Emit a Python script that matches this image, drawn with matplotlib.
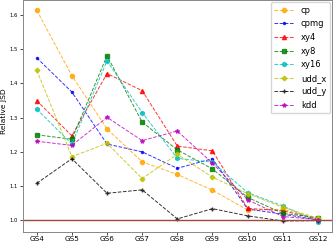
import numpy as np
import matplotlib
matplotlib.use("Agg")
import matplotlib.pyplot as plt

# 九個 GS 點
labels = ["GS4", "GS5", "GS6", "GS7", "GS8", "GS9", "GS10", "GS11", "GS12"]

# 各序列的 Relative JSD
cp = [1.614, 1.423, 1.267, 1.171, 1.134, 1.088, 1.030, 1.032, 1.004]
cpmg = [1.475, 1.375, 1.223, 1.200, 1.152, 1.180, 1.033, 1.018, 1.001]
xy4 = [1.350, 1.247, 1.429, 1.379, 1.217, 1.203, 1.035, 1.028, 1.003]
xy8 = [1.250, 1.237, 1.481, 1.287, 1.206, 1.150, 1.067, 1.020, 1.008]
xy16 = [1.325, 1.223, 1.466, 1.315, 1.181, 1.170, 1.081, 1.042, 0.996]
udd_x = [1.439, 1.186, 1.225, 1.122, 1.193, 1.126, 1.078, 1.038, 1.006]
udd_y = [1.108, 1.180, 1.079, 1.089, 1.004, 1.034, 1.013, 0.998, 0.999]
kdd = [1.231, 1.219, 1.301, 1.233, 1.261, 1.167, 1.060, 1.011, 1.002]

series = [
    ("cp", cp, "orange", "o"),
    ("cpmg", cpmg, "b", "."),
    ("xy4", xy4, "r", "^"),
    ("xy8", xy8, "g", "s"),
    ("xy16", xy16, "c", "h"),
    ("udd_x", udd_x, "y", "P"),
    ("udd_y", udd_y, "k", "+"),
    ("kdd", kdd, "m", "*"),
]

fig = plt.figure(figsize=(3.33, 2.43), dpi=100)
ax = fig.add_axes([0.068, 0.047, 0.929, 0.953])

x = np.arange(len(labels))
for name, vals, col, mk in series:
    ax.plot(x, vals, linestyle="--", color=col, marker=mk, markersize=3,
            linewidth=0.7, alpha=0.8, label=name)

# 基準線 y = 1
ax.axhline(1.0, color="#9c4a3a", linewidth=1.0)

ax.set_xticks(x)
ax.set_xticklabels(labels, fontsize=5.2)
ax.set_yticks([1.0, 1.1, 1.2, 1.3, 1.4, 1.5, 1.6])
ax.tick_params(axis="y", labelsize=3.8, length=2, width=0.5, pad=1.5)
ax.tick_params(axis="x", length=2, width=0.5, pad=1.5)
ax.set_xlim(-0.4, 8.4)
ax.set_ylim(0.967, 1.644)
ax.set_ylabel("Relative JSD", fontsize=5.4)
ax.yaxis.set_label_coords(-0.05, 0.52)
for s in ax.spines.values():
    s.set_color("#888888")
    s.set_linewidth(0.7)

ax.legend(loc="upper right", fontsize=6, framealpha=0.8, handlelength=2.4,
          borderpad=0.4, labelspacing=0.55, borderaxespad=0.3)

plt.savefig("out.png", dpi=100)
